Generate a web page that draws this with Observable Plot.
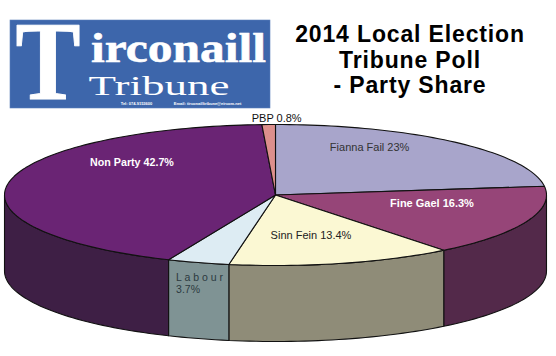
<!DOCTYPE html>
<html>
<head>
<meta charset="utf-8">
<script src="https://cdn.jsdelivr.net/npm/d3@7"></script>
<script src="https://cdn.jsdelivr.net/npm/@observablehq/plot@0.6"></script>
<style>html,body{margin:0;padding:0;background:#fff}svg{display:block}</style>
</head>
<body>
<div id="chart"></div>
<script>
const parties = ["Fianna Fail", "Fine Gael", "Sinn Fein", "Labour", "Non Party", "PBP"];
const shares = [23, 16.3, 13.4, 3.7, 42.7, 0.8];
const topColours = ["#a8a5cb", "#964578", "#fbf8d3", "#ddecf3", "#6a2474", "#dd8f8c"];
const sideColours = ["#6a6880", "#53294a", "#8f8c78", "#7f9394", "#3e1f45", "#80504e"];
const labelTexts = ["Fianna Fail 23%", "Fine Gael 16.3%", "Sinn Fein 13.4%", "L a b o u r\n3.7%", "Non Party 42.7%", "PBP 0.8%"];
const titleLines = ["2014 Local Election", "Tribune Poll", "- Party Share"];

const W = 556, H = 356;
const pie = {cx: 275, cy: 194.5, rx: 271, ry: 70.5, depth: 76};
const rad = d => d * Math.PI / 180;
const total = d3.sum(shares);
const rim = (deg, f = 1, drop = 0) => ({
  x: pie.cx + f * pie.rx * Math.sin(rad(deg)),
  y: pie.cy - f * pie.ry * Math.cos(rad(deg)) + drop
});
const arc = (a, b, drop = 0) => {
  const n = Math.max(2, Math.ceil(Math.abs(b - a) / 1.5));
  return d3.range(n + 1).map(i => rim(a + (b - a) * i / n, 1, drop));
};

let run = 0;
const slices = shares.map((v, i) => {
  const a0 = run / total * 360;
  run += v;
  return {party: parties[i], a0, a1: run / total * 360, top: topColours[i], side: sideColours[i], label: labelTexts[i]};
});

const edge = {stroke: "#111", strokeWidth: 1.1, strokeLinejoin: "round"};
const sideMarks = slices.filter(s => s.a1 > 90 && s.a0 < 270).map(s => {
  const a = Math.max(s.a0, 90), b = Math.min(s.a1, 270);
  const pts = [...arc(a, b), ...arc(b, a, pie.depth)];
  pts.push(pts[0]);
  return Plot.line(pts, {x: "x", y: "y", fill: s.side, ...edge});
});
const topMarks = slices.map(s => {
  const pts = [{x: pie.cx, y: pie.cy}, ...arc(s.a0, s.a1), {x: pie.cx, y: pie.cy}];
  return Plot.line(pts, {x: "x", y: "y", fill: s.top, ...edge});
});

const labelStyle = [
  {f: .6, dx: -13.5, dy: -16, fill: "#333", fontWeight: 400, size: 11},
  {f: .6, dx: 6, dy: -8.5, fill: "#fff", fontWeight: 700, size: 11},
  {f: .6, dx: -4.5, dy: -1.5, fill: "#222", fontWeight: 400, size: 11},
  {f: .6, dx: -53, dy: 48, fill: "#2c3a40", fontWeight: 400, size: 10.5, anchor: "start"},
  {f: .6, dx: 16.5, dy: -25, fill: "#fff", fontWeight: 700, size: 10.7},
  {f: 1, dx: 8, dy: -7, fill: "#111", fontWeight: 400, size: 11}
];
const labelMarks = slices.map((s, i) => {
  const st = labelStyle[i], p = rim((s.a0 + s.a1) / 2, st.f);
  return Plot.text([{...p, t: s.label}], {
    x: "x", y: "y", text: "t", dx: st.dx, dy: st.dy, fill: st.fill,
    fontSize: st.size, fontWeight: st.fontWeight, textAnchor: st.anchor || "middle",
    lineHeight: 1.15, fontFamily: "Liberation Sans"
  });
});

const serif = "Liberation Serif";
const logo = [
  Plot.rect([{x1: 10, x2: 270, y1: 20, y2: 108}], {x1: "x1", x2: "x2", y1: "y1", y2: "y2", fill: "#3d66ab", stroke: "#5d80bb", strokeWidth: .6}),
  Plot.text(["T"], {x: 47.5, y: 63, text: d => d, fill: "#fff", stroke: "#fff", strokeWidth: 1, fontFamily: serif, fontWeight: 700, fontSize: 112}),
  Plot.text(["irconaill"], {x: 178, y: 47.5, text: d => d, fill: "#fff", stroke: "#fff", strokeWidth: .6, fontFamily: serif, fontWeight: 700, fontSize: 43}),
  Plot.text(["Tribune"], {x: 158.5, y: 85.5, text: d => d, fill: "#fff", fontFamily: serif, fontSize: 28}),
  Plot.text(["Tel: 074-9153600"], {x: 136, y: 103, text: d => d, fill: "#fff", fontFamily: "Liberation Sans", fontWeight: 700, fontSize: 4}),
  Plot.text(["Email: tirconailltribune@eircom.net"], {x: 207, y: 103, text: d => d, fill: "#fff", fontFamily: "Liberation Sans", fontWeight: 700, fontSize: 4})
];

const titleMarks = titleLines.map((t, i) => Plot.text([t], {
  x: 409.5, y: 34.6 + i * 25.4, text: d => d, fill: "#000",
  fontFamily: "Liberation Sans", fontWeight: 700, fontSize: 23
}));

const chart = Plot.plot({
  width: W, height: H, margin: 0,
  x: {domain: [0, W], range: [0, W], axis: null},
  y: {domain: [0, H], range: [0, H], axis: null},
  style: {background: "#fff"},
  marks: [...logo, ...titleMarks, ...sideMarks, ...topMarks, ...labelMarks]
});

// Stretch the masthead words and track the title, as in the reference.
const fitted = {"T": 65, "irconaill": 175, "Tribune": 141};
chart.querySelectorAll("text").forEach(t => {
  const s = t.textContent;
  if (fitted[s]) {
    t.setAttribute("textLength", fitted[s]);
    t.setAttribute("lengthAdjust", "spacingAndGlyphs");
  }
  if (titleLines.includes(s)) t.setAttribute("letter-spacing", "0.85");
});
document.getElementById("chart").append(chart);
</script>
</body>
</html>
